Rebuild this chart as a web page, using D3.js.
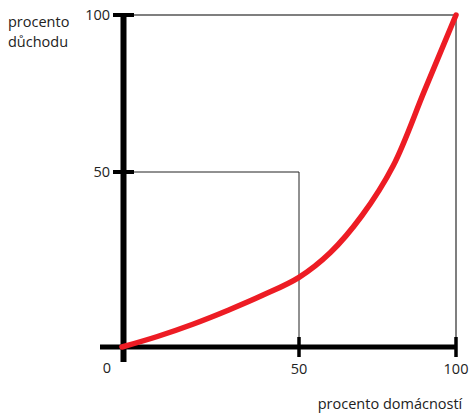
<!DOCTYPE html>
<html><head><meta charset="utf-8">
<script src="https://cdn.jsdelivr.net/npm/d3@7"></script>
<style>html,body{margin:0;padding:0;background:#fff;}svg{display:block;}</style>
</head><body>
<svg id="c" width="469" height="414"></svg>
<script>
const xValues = [0, 10, 20, 30, 40, 50, 60, 70, 80, 90, 100];
const yValues = [0, 3, 6.5, 10.5, 14.9, 19.9, 27, 37.5, 52, 76, 100];
const xTicks = [50, 100];
const yTicks = [50, 100];
const yTitle = ["procento", "důchodu"];
const xTitle = "procento domácností";

const svg = d3.select("#c");
const x = d3.scaleLinear().domain([0, 50, 100]).range([122, 299, 456]);
const y = d3.scaleLinear().domain([0, 50, 100]).range([347, 172, 15]);
const font = "'Open Sans', sans-serif";
const fs = 14.5;

// thin frame lines
svg.append("line").attr("x1", 134).attr("x2", x(100)).attr("y1", y(100)).attr("y2", y(100))
  .attr("stroke", "#555").attr("stroke-width", 1.5);
svg.append("line").attr("x1", x(100)).attr("x2", x(100)).attr("y1", y(100)).attr("y2", y(0))
  .attr("stroke", "#555").attr("stroke-width", 1.5);
// 50 guides
svg.append("line").attr("x1", 133).attr("x2", x(50)).attr("y1", y(50)).attr("y2", y(50))
  .attr("stroke", "#222").attr("stroke-width", 1);
svg.append("line").attr("x1", x(50)).attr("x2", x(50)).attr("y1", y(50)).attr("y2", y(0))
  .attr("stroke", "#222").attr("stroke-width", 1);

// axes
svg.append("line").attr("x1", 100).attr("x2", x(100)).attr("y1", y(0)).attr("y2", y(0))
  .attr("stroke", "#000").attr("stroke-width", 5);
svg.append("line").attr("x1", 123.5).attr("x2", 123.5).attr("y1", 14).attr("y2", 362)
  .attr("stroke", "#000").attr("stroke-width", 6);

// y ticks
svg.selectAll(".yt").data(yTicks).join("line").attr("class", "yt")
  .attr("x1", 113).attr("x2", 134).attr("y1", d => y(d)).attr("y2", d => y(d))
  .attr("stroke", "#000").attr("stroke-width", 4);
svg.selectAll(".yl").data(yTicks).join("text").attr("class", "yl")
  .attr("x", 110).attr("y", d => y(d)).attr("dy", "0.35em").attr("text-anchor", "end")
  .attr("font-family", font).attr("font-size", fs).attr("fill", "#222").text(d => d);
// x ticks
svg.selectAll(".xt").data(xTicks).join("line").attr("class", "xt")
  .attr("x1", d => x(d)).attr("x2", d => x(d)).attr("y1", 337).attr("y2", 357)
  .attr("stroke", "#000").attr("stroke-width", 3.5);
svg.selectAll(".xl").data(xTicks).join("text").attr("class", "xl")
  .attr("x", d => x(d)).attr("y", 369).attr("dy", "0.35em").attr("text-anchor", "middle")
  .attr("font-family", font).attr("font-size", fs).attr("fill", "#222").text(d => d);
svg.append("text").attr("x", 107).attr("y", 368).attr("dy", "0.35em").attr("text-anchor", "middle")
  .attr("font-family", font).attr("font-size", fs).attr("fill", "#222").text(0);

// titles
svg.selectAll(".yti").data(yTitle).join("text").attr("class", "yti")
  .attr("x", 8).attr("y", (d, i) => 22 + i * 20).attr("dy", "0.35em")
  .attr("font-family", font).attr("font-size", fs).attr("fill", "#222").text(d => d);
svg.append("text").attr("x", 390).attr("y", 404).attr("dy", "0.35em").attr("text-anchor", "middle")
  .attr("font-family", font).attr("font-size", fs).attr("fill", "#222").text(xTitle);

// curve
const pts = xValues.map((v, i) => [v, yValues[i]]);
svg.append("path").datum(pts)
  .attr("d", d3.line().x(d => x(d[0])).y(d => y(d[1])).curve(d3.curveCatmullRom.alpha(0.5)))
  .attr("fill", "none").attr("stroke", "#ed1c24").attr("stroke-width", 5.5).attr("stroke-linecap", "round");
</script>
</body></html>
